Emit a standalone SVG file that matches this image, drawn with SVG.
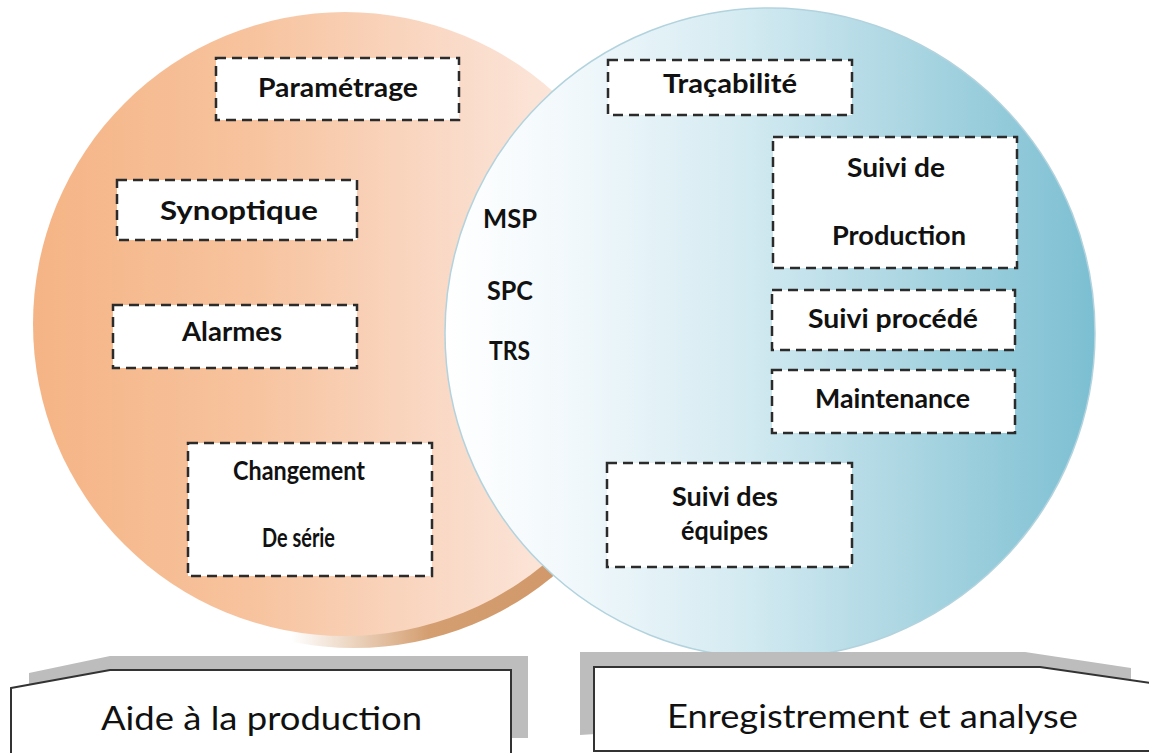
<svg xmlns="http://www.w3.org/2000/svg" width="1149" height="753" viewBox="0 0 1149 753">
<defs>
<linearGradient id="gOr" x1="0" y1="0" x2="1" y2="0">
<stop offset="0" stop-color="#f5b485"/>
<stop offset="0.35" stop-color="#f7c39e"/>
<stop offset="0.7" stop-color="#fadccb"/>
<stop offset="1" stop-color="#fdf1ea"/>
</linearGradient>
<linearGradient id="gSh" x1="0" y1="0" x2="1" y2="0">
<stop offset="0.4" stop-color="#d49e70" stop-opacity="0"/>
<stop offset="0.62" stop-color="#d49e70" stop-opacity="1"/>
<stop offset="1" stop-color="#cf9566"/>
</linearGradient>
<linearGradient id="gBl" x1="0" y1="0" x2="1" y2="0">
<stop offset="0" stop-color="#ffffff"/>
<stop offset="0.2" stop-color="#f1f8fb"/>
<stop offset="0.45" stop-color="#d5ebf2"/>
<stop offset="0.75" stop-color="#a5d3e0"/>
<stop offset="1" stop-color="#7cbfd2"/>
</linearGradient>
<style>
.box{fill:#ffffff;stroke:#2b2b2b;stroke-width:2.5;stroke-dasharray:10 6}
.t{font-family:Lato,"Open Sans","Liberation Sans",sans-serif;font-weight:bold;font-size:27px;fill:#111111}
.lbl{font-family:Lato,"Open Sans","Liberation Sans",sans-serif;font-size:33px;fill:#111111}
.shadow{fill:#bdbdbd}
.panel{fill:#ffffff;stroke:#333333;stroke-width:2}
</style>
</defs>
<g id="circles">
<circle id="orange-shadow" cx="354" cy="336" r="312" fill="url(#gSh)"/>
<circle id="orange" cx="345" cy="324" r="312" fill="url(#gOr)"/>
<circle id="blue" cx="770" cy="333" r="325" fill="url(#gBl)" stroke="#b2d3de" stroke-width="1.5"/>
</g>
<g id="connectors"/>
<g id="n-parametrage"><rect class="box" x="216" y="58" width="243" height="62"/><text class="t" x="258" y="97" textLength="160" lengthAdjust="spacingAndGlyphs">Paramétrage</text></g>
<g id="n-synoptique"><rect class="box" x="117" y="180" width="240" height="60"/><text class="t" x="160" y="220" textLength="158" lengthAdjust="spacingAndGlyphs">Synoptique</text></g>
<g id="n-alarmes"><rect class="box" x="113" y="305" width="244" height="63"/><text class="t" x="182" y="341" textLength="100" lengthAdjust="spacingAndGlyphs">Alarmes</text></g>
<g id="n-changement"><rect class="box" x="188" y="443" width="244" height="133"/><text class="t" x="233" y="480" textLength="132" lengthAdjust="spacingAndGlyphs">Changement</text><text class="t" x="262" y="547" textLength="73" lengthAdjust="spacingAndGlyphs">De série</text></g>
<g id="n-center"><text class="t" x="483" y="228" textLength="54" lengthAdjust="spacingAndGlyphs">MSP</text><text class="t" x="487" y="300" textLength="46" lengthAdjust="spacingAndGlyphs">SPC</text><text class="t" x="489" y="360" textLength="41" lengthAdjust="spacingAndGlyphs">TRS</text></g>
<g id="n-tracabilite"><rect class="box" x="608" y="60" width="244" height="55"/><text class="t" x="663" y="93" textLength="134" lengthAdjust="spacingAndGlyphs">Traçabilité</text></g>
<g id="n-suivi-production"><rect class="box" x="773" y="137" width="244" height="131"/><text class="t" x="847" y="177" textLength="98" lengthAdjust="spacingAndGlyphs">Suivi de</text><text class="t" x="832" y="245" textLength="134" lengthAdjust="spacingAndGlyphs">Production</text></g>
<g id="n-suivi-procede"><rect class="box" x="772" y="290" width="243" height="60"/><text class="t" x="808" y="328" textLength="170" lengthAdjust="spacingAndGlyphs">Suivi procédé</text></g>
<g id="n-maintenance"><rect class="box" x="772" y="370" width="243" height="63"/><text class="t" x="815" y="408" textLength="155" lengthAdjust="spacingAndGlyphs">Maintenance</text></g>
<g id="n-suivi-equipes"><rect class="box" x="607" y="463" width="245" height="104"/><text class="t" x="672" y="506" textLength="106" lengthAdjust="spacingAndGlyphs">Suivi des</text><text class="t" x="681" y="540" textLength="87" lengthAdjust="spacingAndGlyphs">équipes</text></g>
<g id="n-aide">
<polygon class="shadow" points="29,673 110,656 528,656 528,738 29,738"/>
<polygon class="panel" points="11,688 110,670 511,670 511,760 11,760"/>
<text class="lbl" x="101" y="730" textLength="321" lengthAdjust="spacingAndGlyphs">Aide à la production</text>
</g>
<g id="n-enregistrement">
<polygon class="shadow" points="580,652 1025,652 1131,668 1131,700 580,735"/>
<polygon class="panel" points="594,667 1040,667 1150,683 1150,751 594,751"/>
<text class="lbl" x="667" y="728" textLength="411" lengthAdjust="spacingAndGlyphs">Enregistrement et analyse</text>
</g>
</svg>
